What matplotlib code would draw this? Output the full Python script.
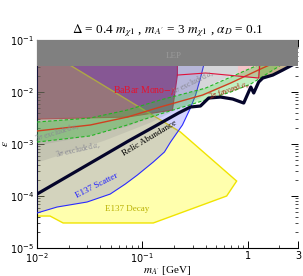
import numpy as np
import matplotlib
matplotlib.use("Agg")
import matplotlib.pyplot as plt

# ---- data (mass in GeV, epsilon) ----
lep_eps = 0.0316

decay_m = [0.01, 0.022, 0.230, 0.785, 0.631, 0.127, 0.0177, 0.0133, 0.01]
decay_eps = [0.08, 0.0303, 0.0017, 1.94e-4, 1.0e-4, 3.03e-5, 3.03e-5, 4.12e-5, 4.12e-5]

scatter_m = [0.01, 0.01, 0.0155, 0.0299, 0.0495, 0.0689, 0.0896, 0.127, 0.162,
             0.185, 0.240, 0.286, 0.320, 0.356, 0.389, 0.407]
scatter_eps = [0.1, 4.71e-5, 6.14e-5, 7.67e-5, 1.09e-4, 1.70e-4, 2.53e-4, 4.51e-4,
               7.02e-4, 1.09e-3, 2.32e-3, 4.92e-3, 8.75e-3, 0.0186, 0.0378, 0.1]

babar_m = [0.01, 0.01, 0.072, 0.193, 0.215, 0.215]
babar_eps = [0.1, 0.00303, 0.0033, 0.00451, 0.0212, 0.1]
babar_top_m = [0.215, 0.398, 1.27, 1.30]
babar_top_eps = [0.0212, 0.0232, 0.0186, 0.0316]

amu_m_hi = [0.01, 0.032, 0.072, 0.148, 0.398, 1.19, 1.85]
amu_eps_hi = [2.65e-3, 3.16e-3, 4.51e-3, 7.02e-3, 0.0119, 0.0316, 0.0471]
amu_m_lo = [0.01, 0.032, 0.072, 0.148, 0.398, 0.689, 1.069, 2.30, 3.0]
amu_eps_lo = [1.09e-3, 1.43e-3, 2.32e-3, 3.78e-3, 7.02e-3, 0.01, 0.01425, 0.0378, 0.0492]
amu_mid_m = [0.01, 0.032, 0.072, 0.148, 0.373, 0.689, 1.39, 2.06]
amu_mid_eps = [1.78e-3, 2.32e-3, 3.30e-3, 5.15e-3, 8.75e-3, 0.0149, 0.029, 0.0412]

ae1_m = [0.01, 0.0257, 0.072, 0.148, 0.518, 1.24, 1.66]
ae1_eps = [9.57e-4, 1.36e-3, 2.22e-3, 4.12e-3, 0.0163, 0.0361, 0.0471]
ae2_m = [0.01, 0.0434, 0.119, 0.356, 0.857, 1.85]
ae2_eps = [4.51e-4, 1.19e-3, 2.65e-3, 8.0e-3, 0.0186, 0.0412]

pink_m = [0.82, 1.27, 1.27, 0.82]
pink_eps = [0.0205, 0.0186, 0.0316, 0.0316]
tan_m = [1.27, 1.27, 1.39, 1.73, 2.15, 2.3]
tan_eps = [0.0316, 0.0186, 0.0186, 0.0212, 0.0265, 0.0316]

relic_m = [0.01, 0.0299, 0.0736, 0.133, 0.220, 0.286, 0.356, 0.426, 0.553, 0.720,
           0.916, 1.069, 1.14, 1.27, 1.39, 1.73, 2.15, 3.0]
relic_eps = [1.09e-4, 3.95e-4, 1.14e-3, 2.22e-3, 3.94e-3, 5.15e-3, 5.38e-3, 7.67e-3,
             8.0e-3, 7.33e-3, 6.14e-3, 0.01248, 9.57e-3, 0.01557, 0.0186, 0.0212,
             0.0265, 0.0378]

plt.rcParams['font.family'] = ['Liberation Serif', 'DejaVu Serif']

fig = plt.figure(figsize=(3.03, 2.76), dpi=100)
ax = fig.add_axes([0.1221, 0.1014, 0.8614, 0.7536])
ax.set_xscale('log')
ax.set_yscale('log')
ax.set_xlim(0.01, 3)
ax.set_ylim(1e-5, 0.1)

ax.fill(babar_m, babar_eps, facecolor='#aa5a8a', edgecolor='#e0103a', lw=0.8, zorder=1)
ax.plot(babar_top_m, babar_top_eps, color='#e0103a', lw=0.8, zorder=6)
ax.fill(decay_m, decay_eps, facecolor=(1, 1, 0, 0.32), edgecolor='#f0e400', lw=1.0, zorder=2)
ax.fill(scatter_m, scatter_eps, facecolor=(0.15, 0.15, 1, 0.2), edgecolor='none', zorder=3)
ax.plot(scatter_m[1:-1], scatter_eps[1:-1], color='#2a2aff', lw=0.8, zorder=3)

# a_e excluded (above line)
ax.fill_between(ae1_m, ae1_eps, 1, color='#707078', alpha=0.15, lw=0, zorder=4)
ax.fill_between(ae2_m, ae2_eps, 1, color='#707078', alpha=0.15, lw=0, zorder=4)
ax.fill(pink_m, pink_eps, color='#f4c4c8', zorder=4)
ax.fill(tan_m, tan_eps, color='#c8b48e', zorder=4)

# a_mu favored band
ax.fill(amu_m_hi + amu_m_lo[::-1], amu_eps_hi + amu_eps_lo[::-1],
        color=(0.2, 0.8, 0.2, 0.3), lw=0, zorder=5)
ax.plot(amu_m_hi, amu_eps_hi, color='#22b422', lw=0.8, ls='--', dashes=(3, 2), zorder=5)
ax.plot(amu_m_lo, amu_eps_lo, color='#22b422', lw=0.8, ls='--', dashes=(3, 2), zorder=5)
ax.plot(amu_mid_m, amu_mid_eps, color='#d04020', lw=1.0, zorder=5)

ax.plot(relic_m, relic_eps, color='#05052a', lw=2.3, zorder=7, solid_capstyle='butt')

ax.axhspan(lep_eps, 0.1, color='#808080', zorder=8, lw=0)

ax.text(0.2, 0.05, 'LEP', color='#9a9a9a', fontsize=6.5, ha='center', va='center', zorder=9)
ax.text(0.106, 0.0105, r'BaBar Mono$-\gamma$', color='#e8102a', fontsize=7, ha='center',
        va='center', zorder=9, math_fontfamily='stix')
ax.text(0.118, 1.3e-3, 'Relic Abundance', color='black', fontsize=6.5, ha='center',
        va='center', rotation=31, zorder=9)
ax.text(0.037, 1.55e-4, 'E137 Scatter', color='#2020ff', fontsize=6.5, ha='center',
        va='center', rotation=27, zorder=9)
ax.text(0.072, 5.6e-5, 'E137 Decay', color='#b8b000', fontsize=6.5, ha='center',
        va='center', zorder=9)
ax.text(0.31, 0.015, r'3$\sigma$ excluded $a_e$', color='#8a8a94', fontsize=5.5, ha='center',
        va='center', rotation=26, zorder=9, math_fontfamily='stix')
ax.text(0.0158, 1.65e-3, r'3$\sigma$ excluded $a_e$', color='#8a8a94', fontsize=5.5,
        ha='center', va='center', rotation=17, zorder=9, math_fontfamily='stix')
ax.text(0.025, 7.7e-4, r'3$\sigma$ excluded $a_e$', color='#8a8a94', fontsize=5.5,
        ha='center', va='center', rotation=13, zorder=9, math_fontfamily='stix')
ax.text(0.67, 0.0106, r'2$\sigma$ favored $a_\mu$', color='#a82a10', fontsize=5.5,
        ha='center', va='center', rotation=19, zorder=9, math_fontfamily='stix')

ax.set_xticks([0.01, 0.1, 1, 3])
ax.set_xticklabels([r'$10^{-2}$', r'$10^{-1}$', '1', '3'])
ax.tick_params(which='both', direction='in', top=True, right=True, labelsize=7)
ax.tick_params(which='major', length=5, width=0.7, pad=2)
ax.tick_params(which='minor', length=2.5, width=0.5)
for lab in ax.get_xticklabels() + ax.get_yticklabels():
    lab.set_family('DejaVu Sans')
ax.spines['right'].set_visible(False)

ax.set_title(r"$\Delta$ = 0.4 $m_{\chi 1}$ , $m_{A'}$ = 3 $m_{\chi 1}$ , $\alpha_D$ = 0.1",
             fontsize=9.5, pad=5, math_fontfamily='stix')
ax.set_xlabel(r"$m_{A'}$ [GeV]", fontsize=8, math_fontfamily='stix')
ax.set_ylabel(r"$\epsilon$", fontsize=8, rotation=90, math_fontfamily='stix')
ax.xaxis.set_label_coords(0.5, -0.078)
ax.yaxis.set_label_coords(-0.105, 0.5)

fig.savefig('out.png', dpi=100)
